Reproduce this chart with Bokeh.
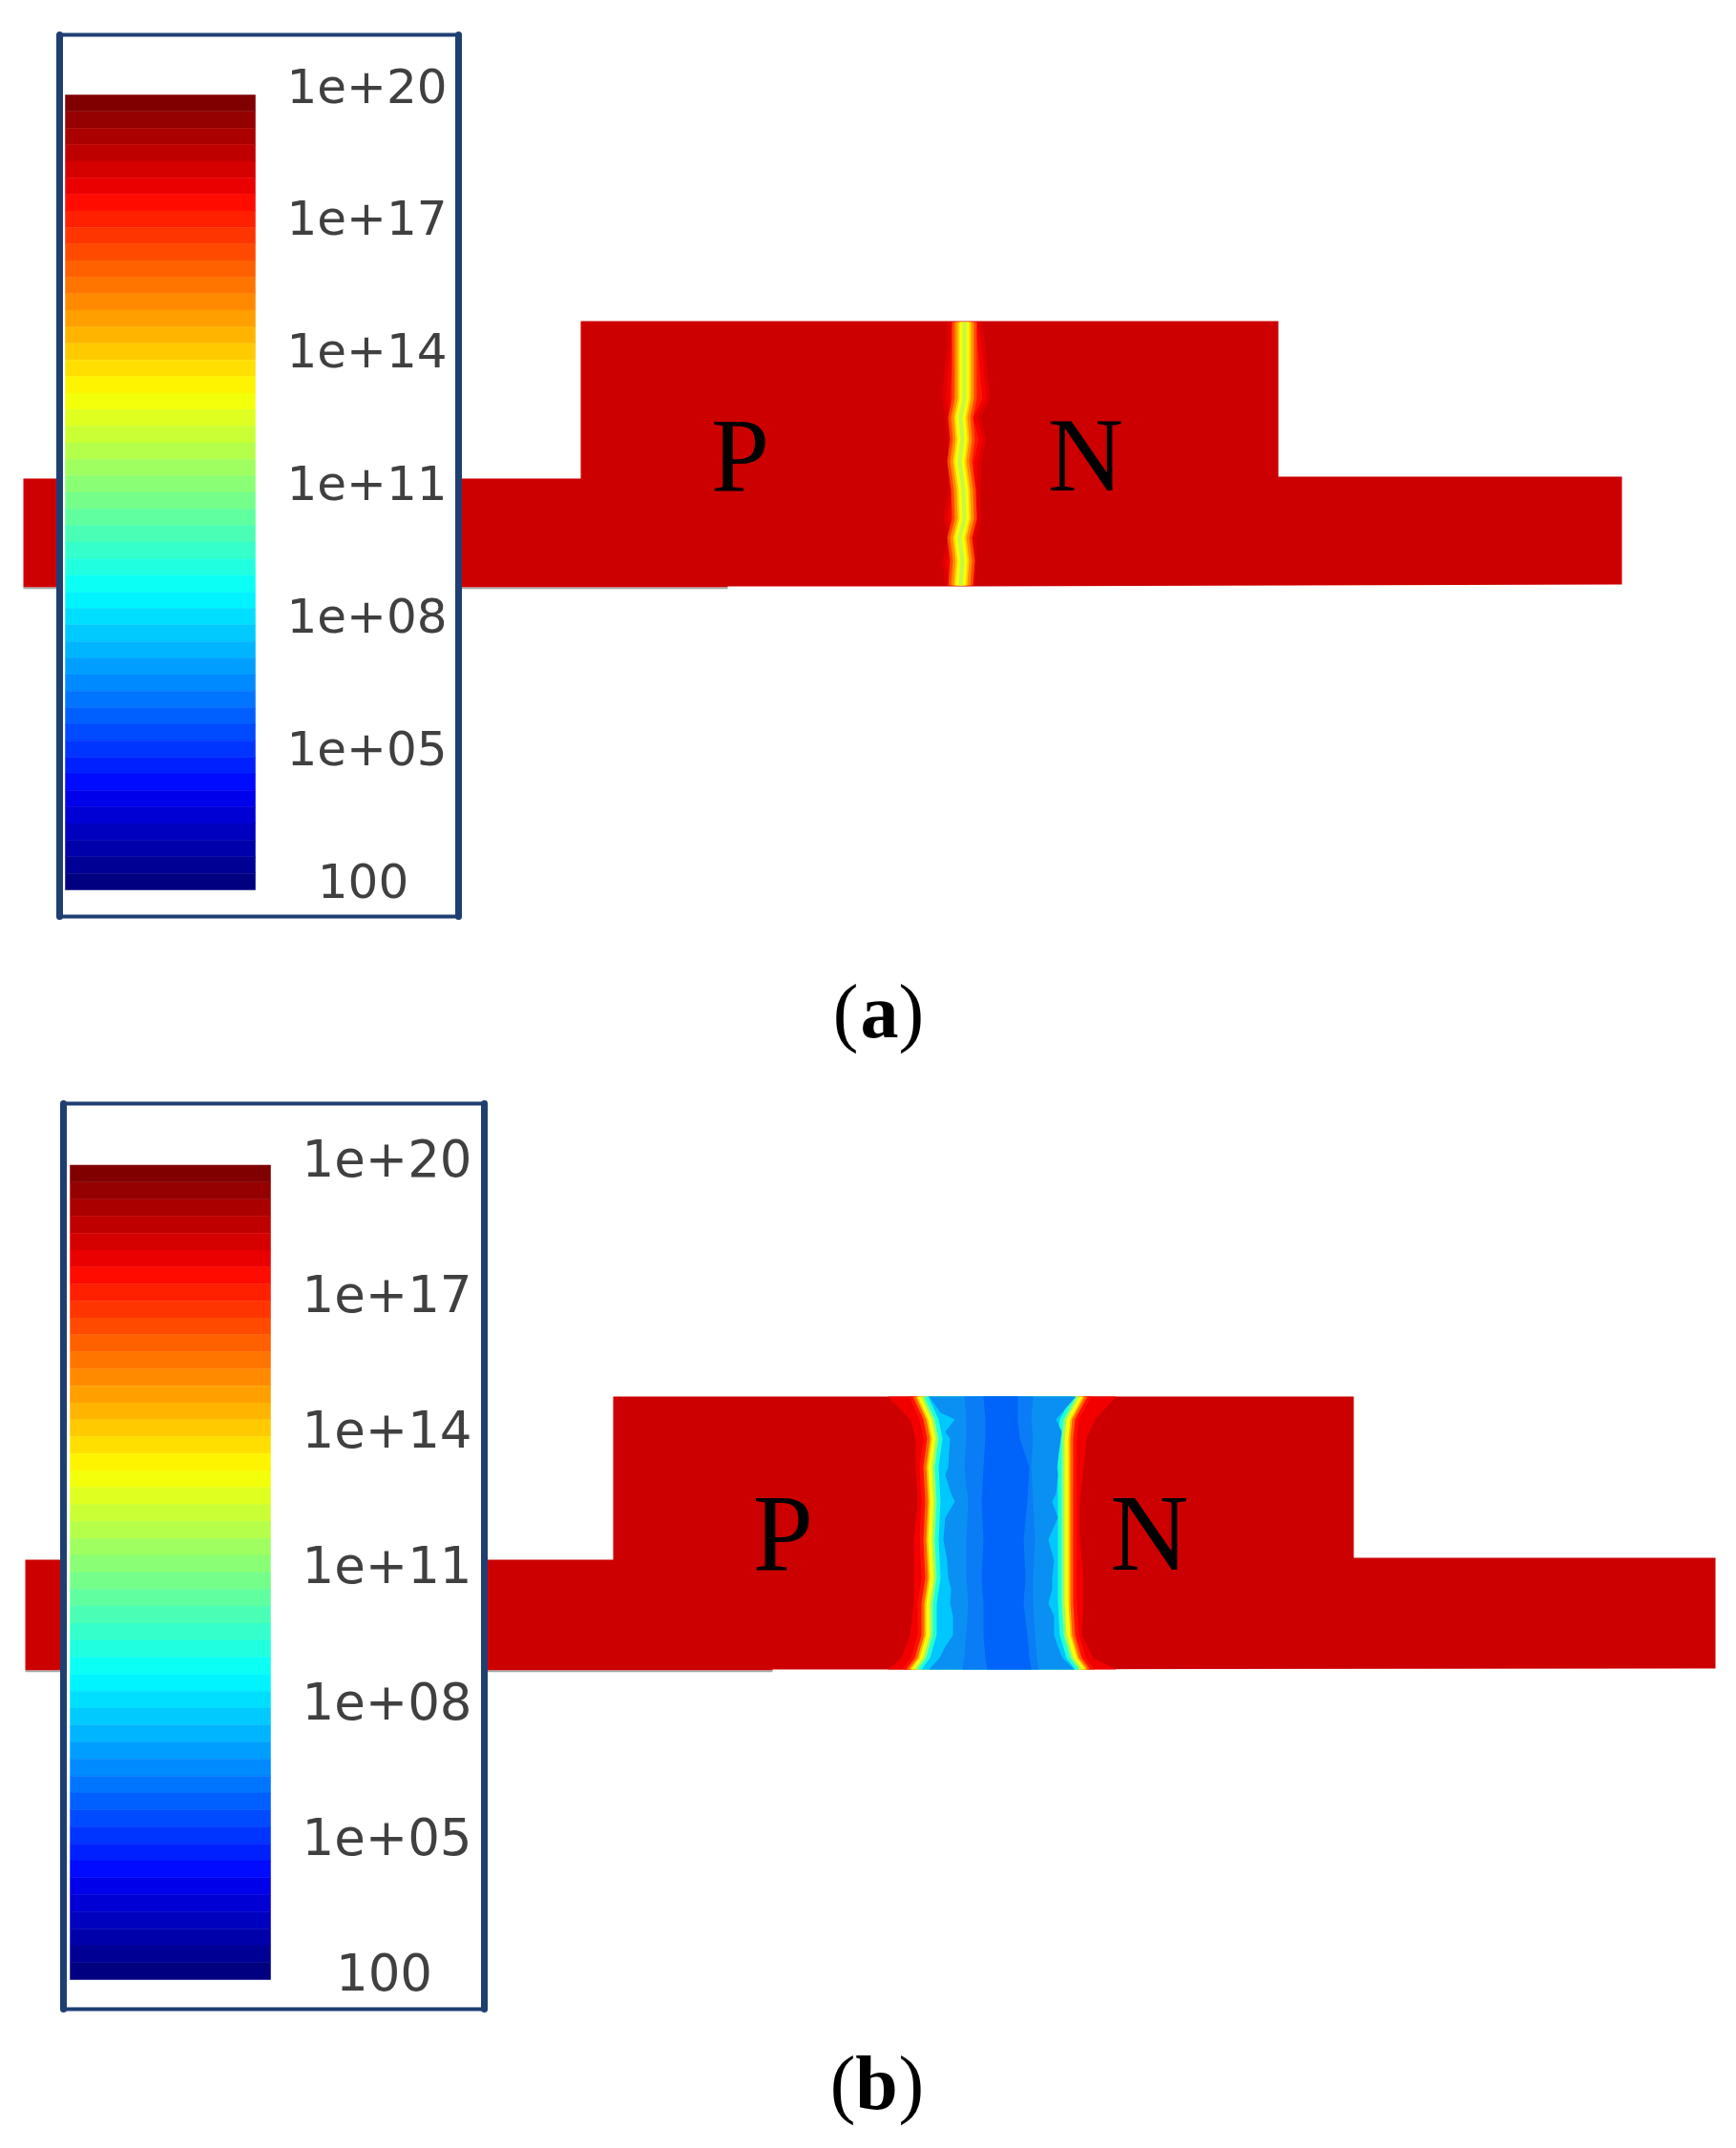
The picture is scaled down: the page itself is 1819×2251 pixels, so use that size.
from bokeh.core.properties import value
from bokeh.embed import file_html
from bokeh.models import Range1d
from bokeh.plotting import figure
from bokeh.resources import INLINE
import numpy as np

# colour scale, top of the bar to the bottom
tick_exponents = [20, 17, 14, 11, 8, 5, 2]
tick_labels = ["1e+20", "1e+17", "1e+14", "1e+11", "1e+08", "1e+05", "100"]
band_colours = [
    "#800000", "#950000", "#aa0000", "#bf0000", "#d50000", "#ea0000",
    "#ff0b00", "#ff2000", "#ff3500", "#ff4a00", "#ff6000", "#ff7500",
    "#ff8a00", "#ff9f00", "#ffb500", "#ffca00", "#ffdf00", "#fff400",
    "#f4ff0b", "#dfff20", "#caff35", "#b5ff4a", "#9fff60", "#8aff75",
    "#75ff8a", "#60ff9f", "#4affb5", "#35ffca", "#20ffdf", "#0bfff4",
    "#00f4ff", "#00dfff", "#00caff", "#00b5ff", "#009fff", "#008aff",
    "#0075ff", "#0060ff", "#004aff", "#0035ff", "#0020ff", "#000bff",
    "#0000ea", "#0000d5", "#0000bf", "#0000aa", "#000095", "#000080",
]

# device (a), outline and the narrow junction
device_a_x = [24, 608, 608, 1339, 1339, 1699, 1699, 1012, 762, 762, 24]
device_a_y = [501, 501, 336, 336, 499, 499, 612, 614, 614, 615, 615]
junction_a_y = [337, 360, 397, 417, 437, 460, 483, 513, 543, 563, 587, 613]
junction_a_core = [1010, 1010, 1010, 1010, 1006, 1008, 1005, 1009, 1010, 1005, 1008, 1006]
junction_a_left = [992, 992, 988, 987, 990, 992, 993, 993, 988, 993, 987, 990]
junction_a_right = [1028, 1032, 1035, 1037, 1027, 1033, 1028, 1027, 1028, 1023, 1023, 1022]

# device (b), outline and the depleted region
device_b_x = [26, 642, 642, 1418, 1418, 1797, 1797, 929, 809, 809, 26]
device_b_y = [1634, 1634, 1463, 1463, 1632, 1632, 1748, 1749, 1749, 1750, 1750]
depletion_y = [1463, 1487, 1507, 1537, 1573, 1613, 1653, 1680, 1713, 1737, 1749]
depletion_red_left = [930, 953, 959, 959, 961, 957, 957, 957, 953, 944, 930]
depletion_yel_left = [962, 973, 977, 973, 975, 973, 975, 971, 971, 964, 955]
depletion_yel_right = [1133, 1120, 1118, 1118, 1118, 1118, 1118, 1118, 1120, 1127, 1136]
depletion_red_right = [1169, 1147, 1138, 1135, 1131, 1131, 1135, 1135, 1133, 1145, 1169]
blue_edge_y = [1463, 1480, 1487, 1500, 1507, 1537, 1545, 1565, 1573, 1590, 1613, 1635, 1653, 1665, 1680, 1693, 1713, 1725, 1737, 1749]
blue_edge_left = [973, 985, 1000, 990, 995, 993, 990, 996, 1000, 990, 988, 992, 993, 996, 995, 998, 998, 990, 984, 973]
blue_edge_right = [1127, 1112, 1106, 1112, 1111, 1107, 1108, 1106, 1102, 1108, 1098, 1104, 1102, 1102, 1098, 1104, 1104, 1108, 1113, 1125]
mid_blue_left = [1010, 1012, 1012, 1010, 1014, 1012, 1012, 1014, 1012, 1010, 1008]
mid_blue_right = [1082, 1080, 1082, 1080, 1082, 1084, 1082, 1082, 1084, 1086, 1088]
deep_blue_left = [1030, 1032, 1032, 1030, 1028, 1030, 1028, 1030, 1030, 1032, 1034]
deep_blue_right = [1066, 1066, 1068, 1078, 1076, 1072, 1074, 1072, 1076, 1078, 1080]

DEVICE_RED = "#cc0000"
BORDER = "#1f3f73"
SERIF = value("Liberation Serif")

p = figure(width=1803, height=2235, x_range=(0, 1803), y_range=(2235, 0),
           output_backend="svg", toolbar_location=None, min_border=0,
           x_axis_location=None, y_axis_location=None, outline_line_color=None)
p.grid.visible = False


def log_range(top_px, bottom_px):
    # extra y range so the bar and labels sit on log10 values
    per_px = (tick_exponents[-1] - tick_exponents[0]) / (bottom_px - top_px)
    return Range1d(start=tick_exponents[0] + (2235 - top_px) * per_px,
                   end=tick_exponents[0] + (0 - top_px) * per_px)


def colour_legend(name, box, bar_x, bar_top, bar_bottom, label_x, font_size, label_shift):
    p.extra_y_ranges[name] = log_range(bar_top, bar_bottom)
    left, right, top, bottom = box
    p.quad(left=left, right=right, top=top, bottom=bottom, fill_color="white", line_color=None)
    p.segment(x0=[left, right, left, left], y0=[top, top, top, bottom],
              x1=[left, right, right, right], y1=[bottom, bottom, top, bottom],
              line_width=[7, 7, 4, 4], line_color=BORDER, line_cap="round")
    edges = np.linspace(tick_exponents[0], tick_exponents[-1], len(band_colours) + 1)
    p.quad(left=bar_x[0], right=bar_x[1], top=edges[:-1], bottom=edges[1:],
           fill_color=band_colours, line_color=band_colours, line_width=0.5, y_range_name=name)
    p.text(x=label_x, y=tick_exponents, text=tick_labels, y_range_name=name,
           text_align="center", text_baseline="middle", y_offset=label_shift,
           text_font=value("DejaVu Sans"), text_font_size=font_size, text_color="#404040")


def caption(letter, y, left_x, mid_x, right_x):
    p.text(x=[left_x], y=[y], text=["("], text_align="right", text_baseline="middle",
           text_font=SERIF, text_font_size="80px", text_color="black")
    p.text(x=[mid_x], y=[y], text=[letter], text_align="center", text_baseline="middle",
           text_font=SERIF, text_font_style="bold", text_font_size="80px", text_color="black")
    p.text(x=[right_x], y=[y], text=[")"], text_align="left", text_baseline="middle",
           text_font=SERIF, text_font_size="80px", text_color="black")


def between(left, right):
    return left + right[::-1]


def shifted(values, by):
    return [v + by for v in values]


def nested_bands(left, right, rows, bands):
    # each band is (inset from the edges, colour), drawn from the outside in
    for inset, colour in bands:
        p.patch(between(shifted(left, inset), shifted(right, -inset)), rows,
                fill_color=colour, line_color=None)


# panel (a)
p.patch(device_a_x, device_a_y, fill_color=DEVICE_RED, line_color=None)
p.line([24, 762], [616, 616], line_color="#9aa6a6", line_width=1.5)
rows = junction_a_y + junction_a_y[::-1]
nested_bands(junction_a_left, junction_a_right, rows, [(0, "#e00000"), (4, "#f60000"), (8, "#ff1800")])
nested_bands(junction_a_core, junction_a_core, rows,
             [(-13, "#ff4a00"), (-10, "#ff9000"), (-7, "#ffd000"), (-5, "#f4ff0b"), (-2, "#c8f840")])
colour_legend("log_a", (62, 480, 36, 960), (68, 267),
              99, 932, [384, 384, 384, 384, 384, 384, 380], "50px", -10)
p.text(x=[775, 1137], y=[476, 476], text=["P", "N"], text_align="center", text_baseline="middle",
       text_font=SERIF, text_font_size="110px", text_color="black")
caption("a", 1059, 899, 921, 941)

# panel (b)
p.patch(device_b_x, device_b_y, fill_color=DEVICE_RED, line_color=None)
p.line([26, 809], [1751, 1751], line_color="#9aa6a6", line_width=1.5)
rows = depletion_y + depletion_y[::-1]
edge_rows = blue_edge_y + blue_edge_y[::-1]
nested_bands(depletion_red_left, depletion_red_right, rows, [(0, "#f20000")])
nested_bands(depletion_yel_left, depletion_yel_right, rows,
             [(-10, "#ff1000"), (-6, "#ff6000"), (-3, "#ffb800"), (-1, "#f4ff0b"),
              (3, "#90ff70"), (6, "#20ffd8"), (10, "#00c8ff")])
p.patch(between(blue_edge_left, blue_edge_right), edge_rows, fill_color="#0a90f2", line_color=None)
p.patch(between(mid_blue_left, mid_blue_right), rows, fill_color="#0a7cf5", line_color=None)
p.patch(between(deep_blue_left, deep_blue_right), rows, fill_color="#0064fa", line_color=None)
colour_legend("log_b", (66, 507, 1156, 2105), (73, 283),
              1220.5, 2074, [405, 405, 405, 405, 405, 405, 402], "53px", -8)
p.text(x=[820, 1204], y=[1606, 1606], text=["P", "N"], text_align="center", text_baseline="middle",
       text_font=SERIF, text_font_size="114px", text_color="black")
caption("b", 2182, 896, 918, 941)

open("out.html", "w").write(file_html(p, INLINE))
